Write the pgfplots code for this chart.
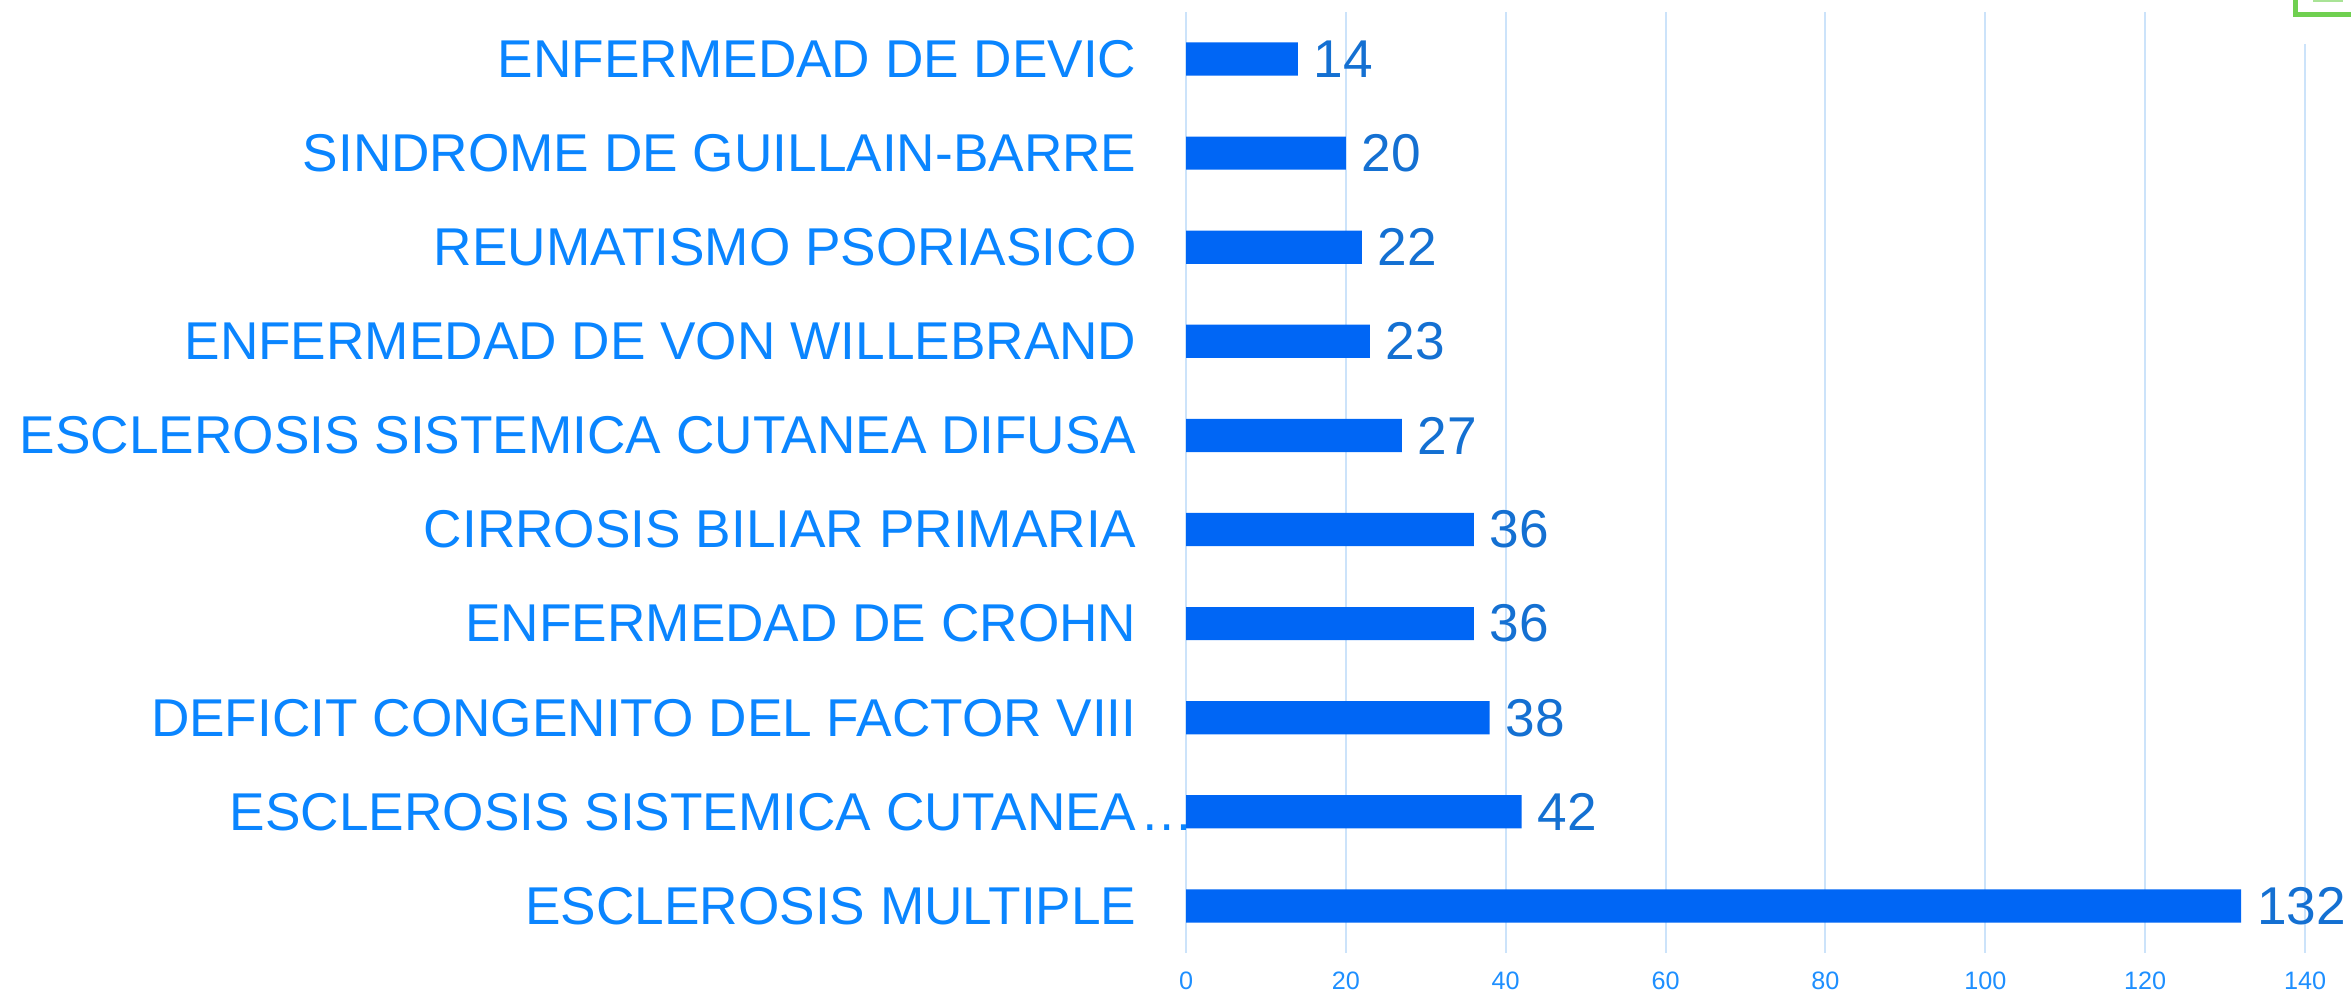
\documentclass[border=0pt]{standalone}
\usepackage{fontspec}
\setmainfont{Liberation Sans}
\usepackage{pgfplots}
\pgfplotsset{compat=1.18}

\definecolor{barc}{HTML}{0066F5}
\definecolor{catc}{HTML}{0A85FF}
\definecolor{valc}{HTML}{1470D2}
\definecolor{tickc}{HTML}{1E8FFF}
\definecolor{gridc}{HTML}{CCE3FA}
\definecolor{boxg}{HTML}{70D050}

\begin{document}
\begin{tikzpicture}
% 1 px of the reference = 0.25pt
\useasboundingbox (0,0) rectangle (587.75pt,248pt);
\begin{axis}[
    at={(296.5pt,9.75pt)}, anchor=south west,
    scale only axis,
    width=279.75pt, height=235.25pt,
    xbar, bar width=8.3pt,
    xmin=0, xmax=140,
    ymin=-0.5, ymax=9.5,
    xtick={0,20,...,140},
    ytick={0,...,9},
    yticklabels={
        ESCLEROSIS MULTIPLE,
        ESCLEROSIS SISTEMICA CUTANEA\rlap{\kern1pt …},
        DEFICIT CONGENITO DEL FACTOR VIII,
        ENFERMEDAD DE CROHN,
        CIRROSIS BILIAR PRIMARIA,
        ESCLEROSIS SISTEMICA CUTANEA DIFUSA,
        ENFERMEDAD DE VON WILLEBRAND,
        REUMATISMO PSORIASICO,
        SINDROME DE GUILLAIN-BARRE,
        ENFERMEDAD DE DEVIC},
    /pgf/number format/assume math mode=true,
    yticklabel style={font=\fontsize{13.3}{14}\selectfont, text=catc,
        anchor=east, inner sep=0pt, xshift=-12.2pt},
    xticklabel style={font=\fontsize{6.3}{7}\selectfont, text=tickc,
        anchor=north, inner sep=0pt, yshift=-4.6pt},
    major tick length=0pt,
    tick style={draw=none},
    axis line style={draw=none},
    xmajorgrids,
    major grid style={draw=gridc, line width=0.5pt},
    clip=false,
    nodes near coords,
    nodes near coords style={font=\fontsize{13.3}{14}\selectfont, text=valc,
        anchor=west, inner sep=3.8pt},
]
\addplot[fill=barc, draw=none] coordinates {
    (132,0) (42,1) (38,2) (36,3) (36,4)
    (27,5) (23,6) (22,7) (20,8) (14,9)
};
\end{axis}
% cut-off green box at the top right corner
\fill[white] (572.5pt,237pt) rectangle (587.75pt,248pt);
\draw[boxg, line width=1.3pt] (573.8pt,249pt) -- (573.8pt,244.4pt) -- (589pt,244.4pt);
\draw[boxg!60, line width=0.6pt] (578.2pt,247.9pt) -- (585.8pt,247.9pt);
\end{tikzpicture}
\end{document}
